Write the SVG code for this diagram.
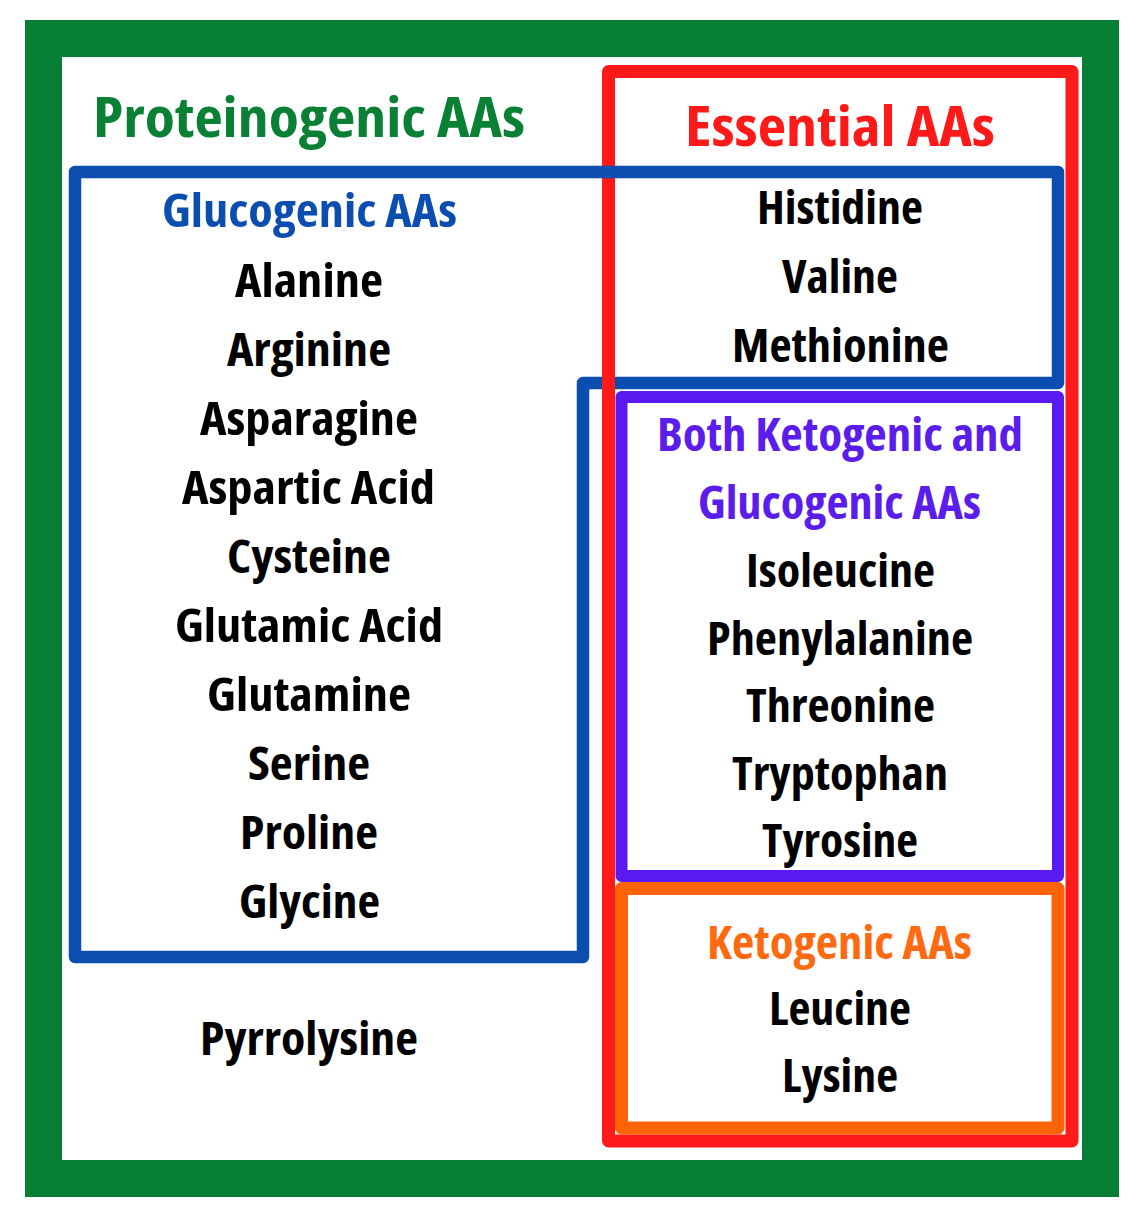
<svg xmlns="http://www.w3.org/2000/svg" width="1140" height="1218" viewBox="0 0 1140 1218">
<style>
text{font-family:"Open Sans","Liberation Sans","DejaVu Sans",sans-serif;font-weight:700;font-stretch:condensed;text-anchor:middle;font-size:46px;fill:#000}
.h{font-size:56px}
.green{fill:#0A8035}
.red{fill:#FF1A1A}
.blue{fill:#0B4EAF}
.purple{fill:#5A1DEB}
.orange{fill:#FF6A10}
.box{fill:none;stroke-linejoin:round}
</style>
<rect x="0" y="0" width="1140" height="1218" fill="#fff"/>
<g id="proteinogenic">
<rect x="43.5" y="38.5" width="1057" height="1140" fill="#fff" stroke="#067F35" stroke-width="37"/>
<text class="h green" x="309" y="137" textLength="432" lengthAdjust="spacingAndGlyphs">Proteinogenic AAs</text>
<text x="309" y="1055" textLength="218" lengthAdjust="spacingAndGlyphs">Pyrrolysine</text>
</g>
<g id="essential">
<rect class="box" x="608.5" y="71.5" width="463.5" height="1069.5" stroke="#FF1A1A" stroke-width="13"/>
<text class="h red" x="840" y="146" textLength="310" lengthAdjust="spacingAndGlyphs">Essential AAs</text>
</g>
<g id="glucogenic">
<path class="box" d="M75 172H1058V383H583V957H75Z" stroke="#0B4EAF" stroke-width="12.5"/>
<line x1="608.5" y1="376" x2="608.5" y2="392" stroke="#FF1A1A" stroke-width="13"/>
<text class="blue" x="309.5" y="227" textLength="295" lengthAdjust="spacingAndGlyphs">Glucogenic AAs</text>
<text x="309" y="297" textLength="148" lengthAdjust="spacingAndGlyphs">Alanine</text>
<text x="309" y="366" textLength="164" lengthAdjust="spacingAndGlyphs">Arginine</text>
<text x="309" y="435" textLength="218" lengthAdjust="spacingAndGlyphs">Asparagine</text>
<text x="308.5" y="504" textLength="253" lengthAdjust="spacingAndGlyphs">Aspartic Acid</text>
<text x="309" y="573" textLength="164" lengthAdjust="spacingAndGlyphs">Cysteine</text>
<text x="309" y="642" textLength="268" lengthAdjust="spacingAndGlyphs">Glutamic Acid</text>
<text x="309" y="711" textLength="204" lengthAdjust="spacingAndGlyphs">Glutamine</text>
<text x="309" y="780" textLength="122" lengthAdjust="spacingAndGlyphs">Serine</text>
<text x="309" y="849" textLength="138" lengthAdjust="spacingAndGlyphs">Proline</text>
<text x="309.5" y="918" textLength="141" lengthAdjust="spacingAndGlyphs">Glycine</text>
<text x="840" y="224" textLength="166" lengthAdjust="spacingAndGlyphs">Histidine</text>
<text x="840" y="293" textLength="116" lengthAdjust="spacingAndGlyphs">Valine</text>
<text x="840.5" y="362" textLength="217" lengthAdjust="spacingAndGlyphs">Methionine</text>
</g>
<g id="both">
<rect class="box" x="621.5" y="397" width="436.5" height="479" stroke="#5A19EE" stroke-width="12"/>
<text class="purple" x="840" y="451" textLength="366" lengthAdjust="spacingAndGlyphs">Both Ketogenic and</text>
<text class="purple" x="839.5" y="519" textLength="283" lengthAdjust="spacingAndGlyphs">Glucogenic AAs</text>
<text x="840.5" y="587" textLength="189" lengthAdjust="spacingAndGlyphs">Isoleucine</text>
<text x="840" y="655" textLength="266" lengthAdjust="spacingAndGlyphs">Phenylalanine</text>
<text x="840.5" y="722" textLength="189" lengthAdjust="spacingAndGlyphs">Threonine</text>
<text x="840" y="790" textLength="216" lengthAdjust="spacingAndGlyphs">Tryptophan</text>
<text x="840" y="857" textLength="156" lengthAdjust="spacingAndGlyphs">Tyrosine</text>
</g>
<g id="ketogenic">
<rect class="box" x="621.5" y="888.5" width="436.5" height="239.5" stroke="#FF6308" stroke-width="13"/>
<text class="orange" x="839.5" y="959" textLength="265" lengthAdjust="spacingAndGlyphs">Ketogenic AAs</text>
<text x="840" y="1025" textLength="142" lengthAdjust="spacingAndGlyphs">Leucine</text>
<text x="840" y="1092" textLength="116" lengthAdjust="spacingAndGlyphs">Lysine</text>
</g>
<g id="connectors"></g>
</svg>
